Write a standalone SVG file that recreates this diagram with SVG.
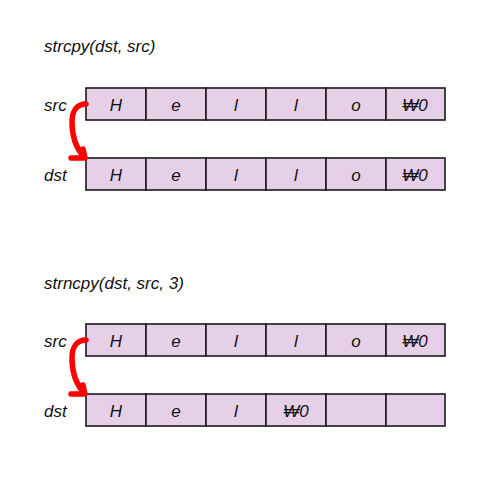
<svg xmlns="http://www.w3.org/2000/svg" width="500" height="500" viewBox="0 0 500 500">
<style>
text{font-family:"Liberation Sans","Noto Sans CJK KR",sans-serif;font-style:italic;font-size:17px;fill:#111}
.c{text-anchor:middle}
.cell{fill:#e6d0e8;stroke:#1a1a1a;stroke-width:1.6}
.arr{fill:none;stroke:#ff0000;stroke-width:5.5;stroke-linecap:round;stroke-linejoin:round}
</style>
<rect width="500" height="500" fill="#fff"/>
<g id="title1"><text x="44" y="52">strcpy(dst, src)</text></g>
<g id="title2"><text x="44" y="289">strncpy(dst, src, 3)</text></g>

<g id="src1">
<text x="44" y="111">src</text>
<rect class="cell" x="86" y="88" width="60" height="32"/>
<rect class="cell" x="146" y="88" width="60" height="32"/>
<rect class="cell" x="206" y="88" width="60" height="32"/>
<rect class="cell" x="266" y="88" width="60" height="32"/>
<rect class="cell" x="326" y="88" width="60" height="32"/>
<rect class="cell" x="386" y="88" width="59" height="32"/>
<text class="c" x="116" y="111">H</text>
<text class="c" x="176" y="111">e</text>
<text class="c" x="236" y="111">l</text>
<text class="c" x="296" y="111">l</text>
<text class="c" x="356" y="111">o</text>
<text class="c" x="415" y="111">₩0</text>
</g>

<g id="dst1">
<text x="44" y="181">dst</text>
<rect class="cell" x="86" y="158" width="60" height="32"/>
<rect class="cell" x="146" y="158" width="60" height="32"/>
<rect class="cell" x="206" y="158" width="60" height="32"/>
<rect class="cell" x="266" y="158" width="60" height="32"/>
<rect class="cell" x="326" y="158" width="60" height="32"/>
<rect class="cell" x="386" y="158" width="59" height="32"/>
<text class="c" x="116" y="181">H</text>
<text class="c" x="176" y="181">e</text>
<text class="c" x="236" y="181">l</text>
<text class="c" x="296" y="181">l</text>
<text class="c" x="356" y="181">o</text>
<text class="c" x="415" y="181">₩0</text>
</g>

<g id="src2">
<text x="44" y="347">src</text>
<rect class="cell" x="86" y="324" width="60" height="32"/>
<rect class="cell" x="146" y="324" width="60" height="32"/>
<rect class="cell" x="206" y="324" width="60" height="32"/>
<rect class="cell" x="266" y="324" width="60" height="32"/>
<rect class="cell" x="326" y="324" width="60" height="32"/>
<rect class="cell" x="386" y="324" width="59" height="32"/>
<text class="c" x="116" y="347">H</text>
<text class="c" x="176" y="347">e</text>
<text class="c" x="236" y="347">l</text>
<text class="c" x="296" y="347">l</text>
<text class="c" x="356" y="347">o</text>
<text class="c" x="415" y="347">₩0</text>
</g>

<g id="dst2">
<text x="44" y="417">dst</text>
<rect class="cell" x="86" y="394" width="60" height="32"/>
<rect class="cell" x="146" y="394" width="60" height="32"/>
<rect class="cell" x="206" y="394" width="60" height="32"/>
<rect class="cell" x="266" y="394" width="60" height="32"/>
<rect class="cell" x="326" y="394" width="60" height="32"/>
<rect class="cell" x="386" y="394" width="59" height="32"/>
<text class="c" x="116" y="417">H</text>
<text class="c" x="176" y="417">e</text>
<text class="c" x="236" y="417">l</text>
<text class="c" x="296" y="417">₩0</text>
</g>

<g id="connectors">
<path class="arr" d="M86,104 C77,104 72,111 72,122 C72,135 75,147 84,157 M71,158 L85,158 L83,149"/>
<path class="arr" d="M86,340 C77,340 72,347 72,358 C72,371 75,383 84,393 M71,394 L85,394 L83,385"/>
</g>
</svg>
